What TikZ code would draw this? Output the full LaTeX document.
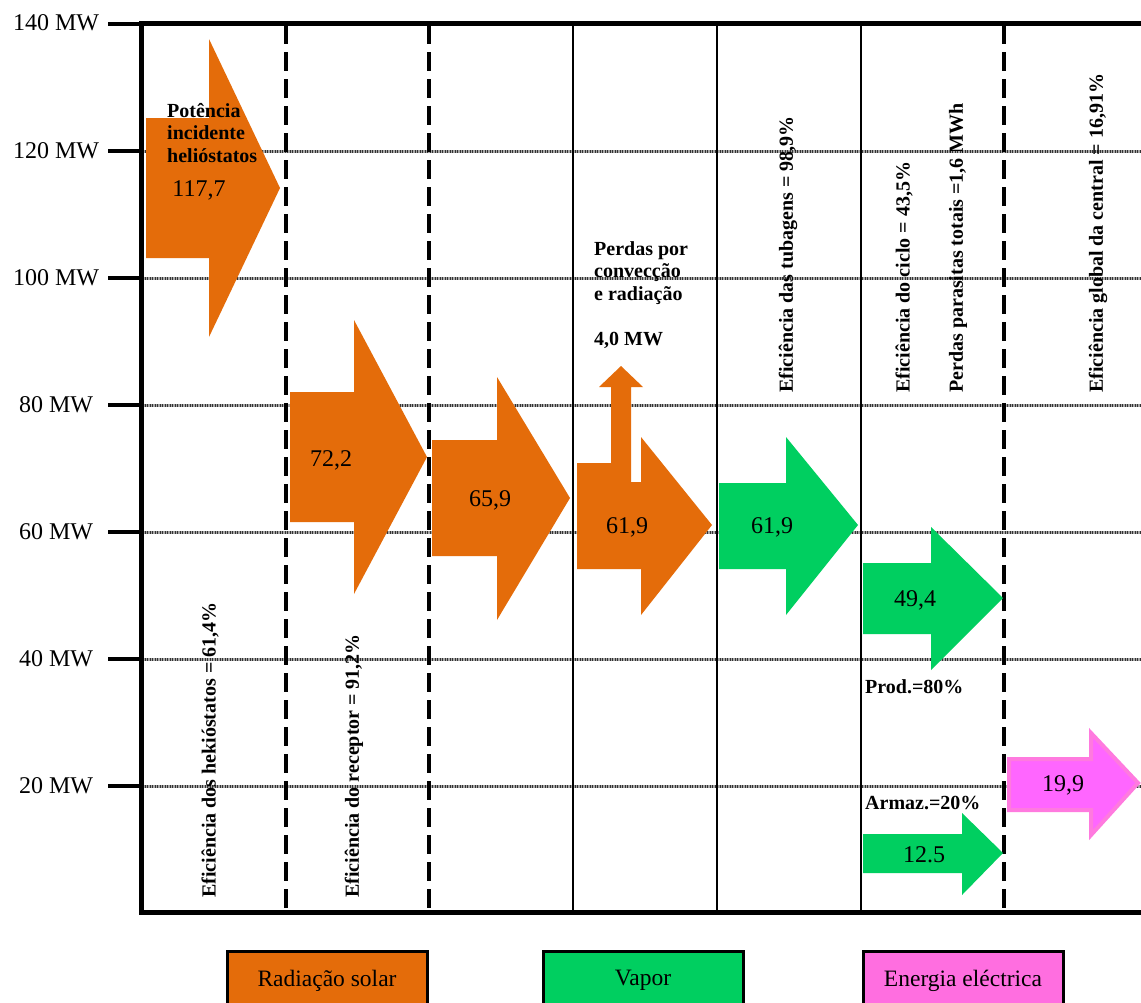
\documentclass[tikz,border=0pt]{standalone}
\usepackage{fontspec}
\setmainfont{Liberation Serif}
\definecolor{solar}{HTML}{E46C0A}
\definecolor{steam}{HTML}{00CF60}
\definecolor{power}{HTML}{FF66FF}
\definecolor{powerrim}{HTML}{FF7ADF}
\definecolor{powerkey}{HTML}{FF6EE0}
\begin{document}
\begin{tikzpicture}[x=1pt,y=-1pt,
  gridbase/.style={line width=3pt, black!35},
  gridhatch/.style={line width=3pt, black!80, dash pattern=on 1pt off 1.5pt},
  stage/.style={line width=2.5pt, black},
  stagedash/.style={line width=4pt, black, dash pattern=on 19pt off 8pt},
  tickmark/.style={line width=4pt, black},
  ticklabel/.style={font=\fontsize{24}{27}\selectfont, inner sep=0pt},
  value/.style={font=\fontsize{24}{27}\selectfont, inner sep=0pt},
  note/.style={font=\fontsize{20}{22.5}\selectfont\bfseries, align=left, inner sep=0pt},
  vlabel/.style={font=\fontsize{20}{22.5}\selectfont\bfseries, rotate=90, anchor=west, inner sep=0pt},
  keybox/.style={draw=black, line width=3pt, minimum width=200pt, minimum height=58pt,
    anchor=north, font=\fontsize{23.5}{26}\selectfont}
]
\clip (0,0) rectangle (1141,1002);
\fill[white] (0,0) rectangle (1141,1002);

% horizontal grid lines
\foreach \yy in {151,278,405,532,659,786} {
  \draw[gridbase] (142,\yy) -- (1141,\yy);
  \draw[gridhatch] (142,\yy) -- (1141,\yy);
}

% stage separators
\foreach \xx in {286,429,1004} \draw[stagedash] (\xx,25) -- (\xx,912);
\foreach \xx in {573,717,861} \draw[stage] (\xx,23) -- (\xx,912);

% solar radiation arrows
\fill[solar] (146,118) -- (209,118) -- (209,39) -- (280,188) -- (209,337) -- (209,258) -- (146,258) -- cycle;
\fill[solar] (290,392) -- (354,392) -- (354,320) -- (427,457) -- (354,594) -- (354,522) -- (290,522) -- cycle;
\fill[solar] (432,440) -- (497,440) -- (497,377) -- (570,498) -- (497,620) -- (497,556) -- (432,556) -- cycle;
\fill[solar] (577,463) -- (611,463) -- (611,387) -- (599,387) -- (621,366) -- (643,387) -- (631,387)
  -- (631,482) -- (641,482) -- (641,437) -- (712,525) -- (641,615) -- (641,569) -- (577,569) -- cycle;

% steam arrows
\fill[steam] (719,483) -- (786,483) -- (786,437) -- (858,525) -- (786,615) -- (786,569) -- (719,569) -- cycle;
\fill[steam] (863,563) -- (931,563) -- (931,527) -- (1003,598) -- (931,670) -- (931,634) -- (863,634) -- cycle;
\fill[steam] (863,834) -- (962,834) -- (962,813) -- (1003,853) -- (962,895) -- (962,873) -- (863,873) -- cycle;

% electric power arrow
\filldraw[fill=power, draw=powerrim, line width=4pt, line join=miter]
  (1009,759) -- (1091,759) -- (1091,733) -- (1138,783) -- (1091,835) -- (1091,810) -- (1009,810) -- cycle;

% frame and axis
\draw[line width=5pt] (139,23) -- (1141,23);
\draw[line width=5pt] (141.5,21) -- (141.5,915);
\draw[line width=5pt] (139,912.5) -- (1141,912.5);
\foreach \yy in {24,151,278,405,532,659,786} \draw[tickmark] (108,\yy) -- (142,\yy);

% axis labels
\node[ticklabel] (l140) at (56,23) {140 MW};
\node[ticklabel] (l120) at (56,151) {120 MW};
\node[ticklabel] (l100) at (56,278) {100 MW};
\node[ticklabel] (l80) at (56,405) {80 MW};
\node[ticklabel] (l60) at (56,532) {60 MW};
\node[ticklabel] (l40) at (56,659) {40 MW};
\node[ticklabel] (l20) at (56,786) {20 MW};

% values
\node[value] (v1) at (199,190) {117,7};
\node[value] (v2) at (331,460) {72,2};
\node[value] (v3) at (490,500) {65,9};
\node[value] (v4) at (627,527) {61,9};
\node[value] (v5) at (772,527) {61,9};
\node[value] (v6) at (915,600) {49,4};
\node[value] (v7) at (924,855) {12.5};
\node[value] (v8) at (1063,785) {19,9};

% notes
\node[note, anchor=north west] (incid) at (167,103) {Potência\\incidente\\helióstatos};
\node[note, anchor=north west] (perdas) at (594,241) {Perdas por\\convecção\\e radiação};
\node[note, anchor=north west] (perdasmw) at (594,332) {4,0 MW};
\node[note, anchor=west] (prod) at (865,687) {Prod.=80\%};
\node[note, anchor=west] (armaz) at (865,803) {Armaz.=20\%};

% efficiencies
\node[vlabel] (eh) at (210,898) {Eficiência dos hekióstatos = 61,4\%};
\node[vlabel] (er) at (354,898) {Eficiência do receptor = 91,2\%};
\node[vlabel] (et) at (788,393) {Eficiência das tubagens = 98,9\%};
\node[vlabel] (ec) at (904,393) {Eficiência do ciclo = 43,5\%};
\node[vlabel] (pp) at (958,393) {Perdas parasitas totais =1,6 MWh};
\node[vlabel] (eg) at (1098,393) {Eficiência global da central = 16,91\%};

% legend
\node[keybox, fill=solar] (ksolar) at (327,950) {Radiação solar};
\node[keybox, fill=steam] (ksteam) at (643,950) {Vapor};
\node[keybox, fill=powerkey] (kpower) at (963,950) {Energia eléctrica};
\end{tikzpicture}
\end{document}
